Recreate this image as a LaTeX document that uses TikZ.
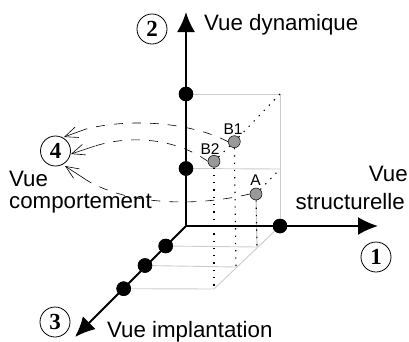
\documentclass[tikz,border=0pt]{standalone}
\usepackage{fontspec}
\setmainfont{Liberation Sans}
\newfontfamily\numfont{Liberation Serif}
\usetikzlibrary{arrows.meta}
\definecolor{lg}{gray}{0.8}
\definecolor{pg}{gray}{0.6}
\tikzset{
 x=1bp,y=-1bp,
 axis/.style={line width=2bp,-{Latex[length=20bp,width=18bp]}},
 bigdot/.style={circle,fill=black,inner sep=0pt,minimum size=14.5bp},
 greydot/.style={circle,draw=black,fill=pg,line width=0.5bp,inner sep=0pt,minimum size=12bp},
 grid/.style={draw=lg,line width=0.9bp},
 dots/.style={line width=1.1bp,dash pattern=on 1.3bp off 6bp},
 arc/.style={line width=0.6bp,dash pattern=on 9bp off 9bp},
 arctip/.style={line width=0.6bp,-{Straight Barb[length=13bp,width=11bp]}},
 num/.style={circle,draw=black,line width=0.8bp,fill=white,inner sep=0pt,minimum size=30bp,font=\numfont\bfseries\fontsize{23bp}{23bp}\selectfont},
 lab/.style={font=\fontsize{22.3bp}{25bp}\selectfont,inner sep=0pt,align=left},
 small/.style={font=\fontsize{15.5bp}{15bp}\selectfont,inner sep=0pt}
}
\begin{document}
\begin{tikzpicture}
\useasboundingbox (0,0) rectangle (409,342);
\coordinate (O) at (186,226);
\coordinate (Yt) at (186,12);
\coordinate (Xt) at (378,226);
\coordinate (Zt) at (75,337);
\coordinate (TR) at (280,94);
\coordinate (MR) at (280,169);
\coordinate (F1) at (257,247);
\coordinate (F2) at (236,267);
\coordinate (F3) at (214,289);
\node[bigdot] (Y1) at (186,94) {};
\node[bigdot] (Y2) at (186,168.5) {};
\node[bigdot] (X1) at (280,226) {};
\node[bigdot] (Z1) at (165.7,246) {};
\node[bigdot] (Z2) at (145,265.5) {};
\node[bigdot] (Z3) at (123.7,288.7) {};
\node[greydot] (B1) at (234.3,141.7) {};
\node[greydot] (B2) at (214,161.3) {};
\node[greydot] (A) at (256,194) {};
\node[num] (n4) at (55.5,151) {4};
\node[num] (n2) at (152,29) {2};
\node[num] (n1) at (376,257) {1};
\node[num] (n3) at (55,322) {3};
% grey frame
\draw[grid] (Y1) -- (TR) -- (X1);
\draw[grid] (Y2) -- (MR);
\draw[grid] (Z1) -- (F1);
\draw[grid] (Z2) -- (F2);
\draw[grid] (Z3) -- (F3) -- (X1);
\draw[grid,line width=1.2bp] (A) -- (F1);
% dotted
\draw[dots] (B2) -- (F3);
\draw[dots] (B1) -- (F2);
\draw[dots] (A) -- (F1);
\draw[dots] (B1) -- (TR);
\draw[dots] (B2) -- (B1);
\draw[dots] (A) -- (MR);
% axes
\draw[axis] (O) -- (Yt);
\draw[axis] (O) -- (Xt);
\draw[axis] (O) -- (Zt);
\node[bigdot] at (Y1) {};
\node[bigdot] at (Y2) {};
\node[bigdot] at (X1) {};
\node[bigdot] at (Z1) {};
\node[bigdot] at (Z2) {};
\node[bigdot] at (Z3) {};
% dashed arcs
\draw[arc] (B1.west) .. controls (190,122) and (130,118) .. (86,129);
\draw[arctip] (86,129) -- (64,137);
\draw[arc] (B2.west) .. controls (175,138) and (130,135) .. (95,146);
\draw[arctip] (95,146) -- (71,154);
\draw[arc] (A.west) .. controls (195,207) and (130,205) .. (88,181);
\draw[arctip] (88,181) -- (65,166);
% labels
\node[lab,anchor=west] (t2) at (204,24.5) {Vue dynamique};
\node[lab,anchor=east] (t1a) at (408,174) {Vue};
\node[lab,anchor=east] (t1b) at (405,202) {structurelle};
\node[lab,anchor=west] (t4a) at (9,179) {Vue};
\node[lab,anchor=west] (t4b) at (9,204) {comportement};
\node[lab,anchor=west] (t3) at (107,332) {Vue implantation};
\node[small] (lb1) at (233,129) {B1};
\node[small] (lb2) at (210,149) {B2};
\node[small] (la) at (255.5,180) {A};
\end{tikzpicture}
\end{document}
